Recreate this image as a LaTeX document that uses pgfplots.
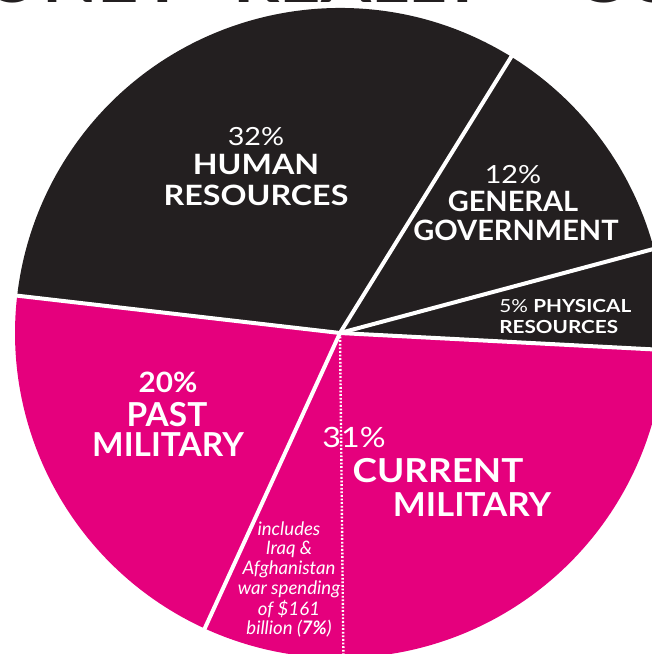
\documentclass[border=0pt]{standalone}
\usepackage{fontspec}
\setmainfont{Lato}
\usepackage{pgfplots}
\usepackage{pgfplotstable}
\pgfplotsset{compat=1.18}
\definecolor{pieblack}{HTML}{231F20}
\definecolor{piepink}{HTML}{E5007D}
\newfontfamily\labfont[FakeStretch=1.15]{Lato}
\pgfplotstableread{
name pct
CurrentMilitary 31
PhysicalResources 5
GeneralGovernment 12
HumanResources 32
PastMilitary 20
IraqAfghanistan 7
}\slices
\pgfplotstablegetelem{0}{pct}\of\slices \let\pctA\pgfplotsretval
\pgfplotstablegetelem{1}{pct}\of\slices \let\pctB\pgfplotsretval
\pgfplotstablegetelem{2}{pct}\of\slices \let\pctC\pgfplotsretval
\pgfplotstablegetelem{3}{pct}\of\slices \let\pctD\pgfplotsretval
\pgfplotstablegetelem{4}{pct}\of\slices \let\pctE\pgfplotsretval
\pgfplotstablegetelem{5}{pct}\of\slices \let\pctF\pgfplotsretval
\pgfmathsetmacro\angA{-114.6}
\pgfmathsetmacro\angB{\angA+3.6*\pctA}
\pgfmathsetmacro\angC{\angB+3.6*\pctB}
\pgfmathsetmacro\angD{\angC+3.6*\pctC}
\pgfmathsetmacro\angE{\angD+3.6*\pctD}
\pgfmathsetmacro\angF{\angE+3.6*\pctE}
\pgfmathsetmacro\angI{\angA+3.6*\pctF}
\def\pieR{162.5pt}
\def\pieRR{175pt}
\begin{document}%
\begin{tikzpicture}
\path (0,0) rectangle (326pt,327pt);
\clip (0,0) rectangle (326pt,327pt);
\begin{axis}[at={(0,0)},anchor=south west,scale only axis,width=326pt,height=327pt,
  xmin=0,xmax=652,ymin=0,ymax=654,hide axis,clip=true]
\fill[overlay,piepink] (axis cs:340,321) -- ++(\angA:\pieR) arc[start angle=\angA,end angle=\angB,radius=\pieR] -- cycle;
\fill[overlay,pieblack] (axis cs:340,321) -- ++(\angB:\pieR) arc[start angle=\angB,end angle=\angC,radius=\pieR] -- cycle;
\fill[overlay,pieblack] (axis cs:340,321) -- ++(\angC:\pieR) arc[start angle=\angC,end angle=\angD,radius=\pieR] -- cycle;
\fill[overlay,pieblack] (axis cs:340,321) -- ++(\angD:\pieR) arc[start angle=\angD,end angle=\angE,radius=\pieR] -- cycle;
\fill[overlay,piepink] (axis cs:340,321) -- ++(\angE:\pieR) arc[start angle=\angE,end angle=\angF,radius=\pieR] -- cycle;
\draw[overlay,white,line width=2pt] (axis cs:340,321) -- ++(\angA:\pieRR);
\draw[overlay,white,line width=2pt] (axis cs:340,321) -- ++(\angB:\pieRR);
\draw[overlay,white,line width=2pt] (axis cs:340,321) -- ++(\angC:\pieRR);
\draw[overlay,white,line width=2pt] (axis cs:340,321) -- ++(\angD:\pieRR);
\draw[overlay,white,line width=2pt] (axis cs:340,321) -- ++(\angE:\pieRR);
\node[overlay,anchor=base east,font=\bfseries\fontsize{36}{36}\selectfont,text=pieblack,inner sep=0pt] at (axis cs:186,651) {WHERE YOUR MONEY};
\node[overlay,anchor=base west,font=\bfseries\fontsize{36}{36}\selectfont,text=pieblack,inner sep=0pt] at (axis cs:233,651) {REALLY};
\node[overlay,anchor=base west,font=\bfseries\fontsize{36}{36}\selectfont,text=pieblack,inner sep=0pt] at (axis cs:573,651) {GOES};
\node[overlay,text=white,inner sep=0pt,anchor=base,font=\labfont\fontsize{12.5}{13}\selectfont] at (axis cs:256,508) {32\%};
\node[overlay,text=white,inner sep=0pt,anchor=base,font=\labfont\bfseries\fontsize{14}{14}\selectfont] at (axis cs:256,479) {HUMAN};
\node[overlay,text=white,inner sep=0pt,anchor=base,font=\labfont\bfseries\fontsize{14}{14}\selectfont] at (axis cs:256,448) {RESOURCES};
\node[overlay,text=white,inner sep=0pt,anchor=base,font=\labfont\fontsize{12.5}{13}\selectfont] at (axis cs:513,470) {12\%};
\node[overlay,text=white,inner sep=0pt,anchor=base,font=\labfont\bfseries\fontsize{14}{14}\selectfont] at (axis cs:513,442) {\scalebox{0.9}[1]{GENERAL}};
\node[overlay,text=white,inner sep=0pt,anchor=base,font=\labfont\bfseries\fontsize{14}{14}\selectfont] at (axis cs:516,413) {\scalebox{0.9}[1]{GOVERNMENT}};
\node[overlay,text=white,inner sep=0pt,anchor=base west,font=\labfont\fontsize{9}{9}\selectfont] at (axis cs:499,341) {5\% \textbf{PHYSICAL}};
\node[overlay,text=white,inner sep=0pt,anchor=base west,font=\labfont\bfseries\fontsize{9}{9}\selectfont] at (axis cs:499,320) {RESOURCES};
\node[overlay,text=white,inner sep=0pt,anchor=base,font=\labfont\bfseries\fontsize{14}{14}\selectfont] at (axis cs:168,261) {\scalebox{0.92}[1]{20\%}};
\node[overlay,text=white,inner sep=0pt,anchor=base,font=\labfont\bfseries\fontsize{16.5}{17}\selectfont] at (axis cs:167,227) {\scalebox{0.88}[1]{PAST}};
\node[overlay,text=white,inner sep=0pt,anchor=base,font=\labfont\bfseries\fontsize{16.5}{17}\selectfont] at (axis cs:168,197) {\scalebox{0.88}[1]{MILITARY}};
\node[overlay,text=white,inner sep=0pt,anchor=base west,font=\labfont\fontsize{14}{14}\selectfont] at (axis cs:322,206) {31\%};
\node[overlay,text=white,inner sep=0pt,anchor=base,font=\labfont\bfseries\fontsize{16.5}{17}\selectfont] at (axis cs:438,171) {\scalebox{0.97}[1]{CURRENT}};
\node[overlay,text=white,inner sep=0pt,anchor=base,font=\labfont\bfseries\fontsize{16.5}{17}\selectfont] at (axis cs:472,137) {\scalebox{0.92}[1]{MILITARY}};
\node[overlay,text=white,inner sep=0pt,anchor=base,font=\itshape\fontsize{9.3}{10}\selectfont] at (axis cs:289,119) {includes};
\node[overlay,text=white,inner sep=0pt,anchor=base,font=\itshape\fontsize{9.3}{10}\selectfont] at (axis cs:289,99) {Iraq \&};
\node[overlay,text=white,inner sep=0pt,anchor=base,font=\itshape\fontsize{9.3}{10}\selectfont] at (axis cs:289,79) {Afghanistan};
\node[overlay,text=white,inner sep=0pt,anchor=base,font=\itshape\fontsize{9.3}{10}\selectfont] at (axis cs:289,59) {war spending};
\node[overlay,text=white,inner sep=0pt,anchor=base,font=\itshape\fontsize{9.3}{10}\selectfont] at (axis cs:289,39) {of \$161};
\node[overlay,text=white,inner sep=0pt,anchor=base,font=\itshape\fontsize{9.3}{10}\selectfont] at (axis cs:289,19) {billion (\textbf{7\%})};
\draw[overlay,white,line width=1.2pt,dash pattern=on 0.9pt off 0.9pt] (axis cs:340,321) -- ++(\angI:\pieRR);
\end{axis}
\end{tikzpicture}%
\end{document}
